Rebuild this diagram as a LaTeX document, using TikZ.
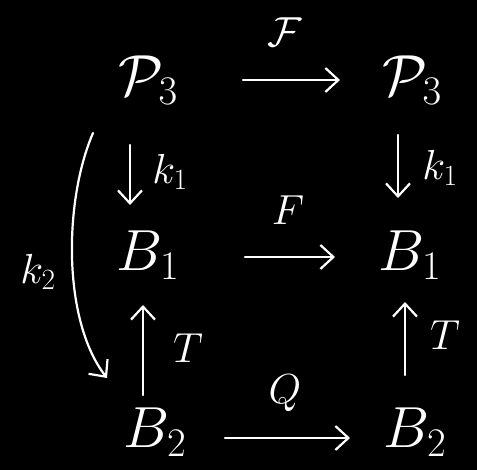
\documentclass[tikz,border=0pt]{standalone}
\usepackage{fix-cm}
\usetikzlibrary{arrows.meta}
\begin{document}
\begin{tikzpicture}[x=1pt,y=-1pt,
  obj/.style={text=white,inner sep=0pt,font=\fontsize{58}{64}\selectfont},
  lbl/.style={text=white,inner sep=0pt,font=\fontsize{42}{48}\selectfont},
  ar/.style={draw=white,line width=2.2pt,line cap=round,-{Straight Barb[length=13pt,width=24pt,line width=2.2pt]}}]
\useasboundingbox (0,0) rectangle (477,470);
\fill[black] (0,0) rectangle (477,470);
% objects
\node[obj] (p1) at (148,80) {$\mathcal{P}_3$};
\node[obj] (p2) at (412,80) {$\mathcal{P}_3$};
\node[obj] (b1) at (148,255) {$B_1$};
\node[obj] (b2) at (410,255) {$B_1$};
\node[obj] (c1) at (155,432) {$B_2$};
\node[obj] (c2) at (415,432) {$B_2$};
% horizontal arrows
\draw[ar] ([shift={(95,0)}]p1.center) -- ([shift={(-72,0)}]p2.center);
\node[lbl] (lF) at (285,32) {$\mathcal{F}$};
\draw[ar] ([shift={(97,2)}]b1.center) -- ([shift={(-75,2)}]b2.center);
\node[lbl] (lf) at (288,210) {$F$};
\draw[ar] ([shift={(70,6)}]c1.center) -- ([shift={(-65,6)}]c2.center);
\node[lbl] (lq) at (285,393) {$Q$};
% vertical arrows
\draw[ar] ([shift={(-18,65)}]p1.center) -- ([shift={(-18,-50)}]b1.center);
\node[lbl] (lk1) at (170,172) {$k_1$};
\draw[ar] ([shift={(-14,55)}]p2.center) -- ([shift={(-12,-57)}]b2.center);
\node[lbl] (lk1b) at (440,168) {$k_1$};
\draw[ar] ([shift={(-12,-37)}]c1.center) -- ([shift={(-5,50)}]b1.center);
\node[lbl] (lt) at (188,348) {$T$};
\draw[ar] ([shift={(-10,-57)}]c2.center) -- ([shift={(-5,47)}]b2.center);
\node[lbl] (ltb) at (445,335) {$T$};
% curved k2
\draw[ar] ([shift={(-55,53)}]p1.center) .. controls (64,200) and (62,320) .. ([shift={(-48,-54)}]c1.center);
\node[lbl] (lk2) at (38,272) {$k_2$};
\end{tikzpicture}
\end{document}
